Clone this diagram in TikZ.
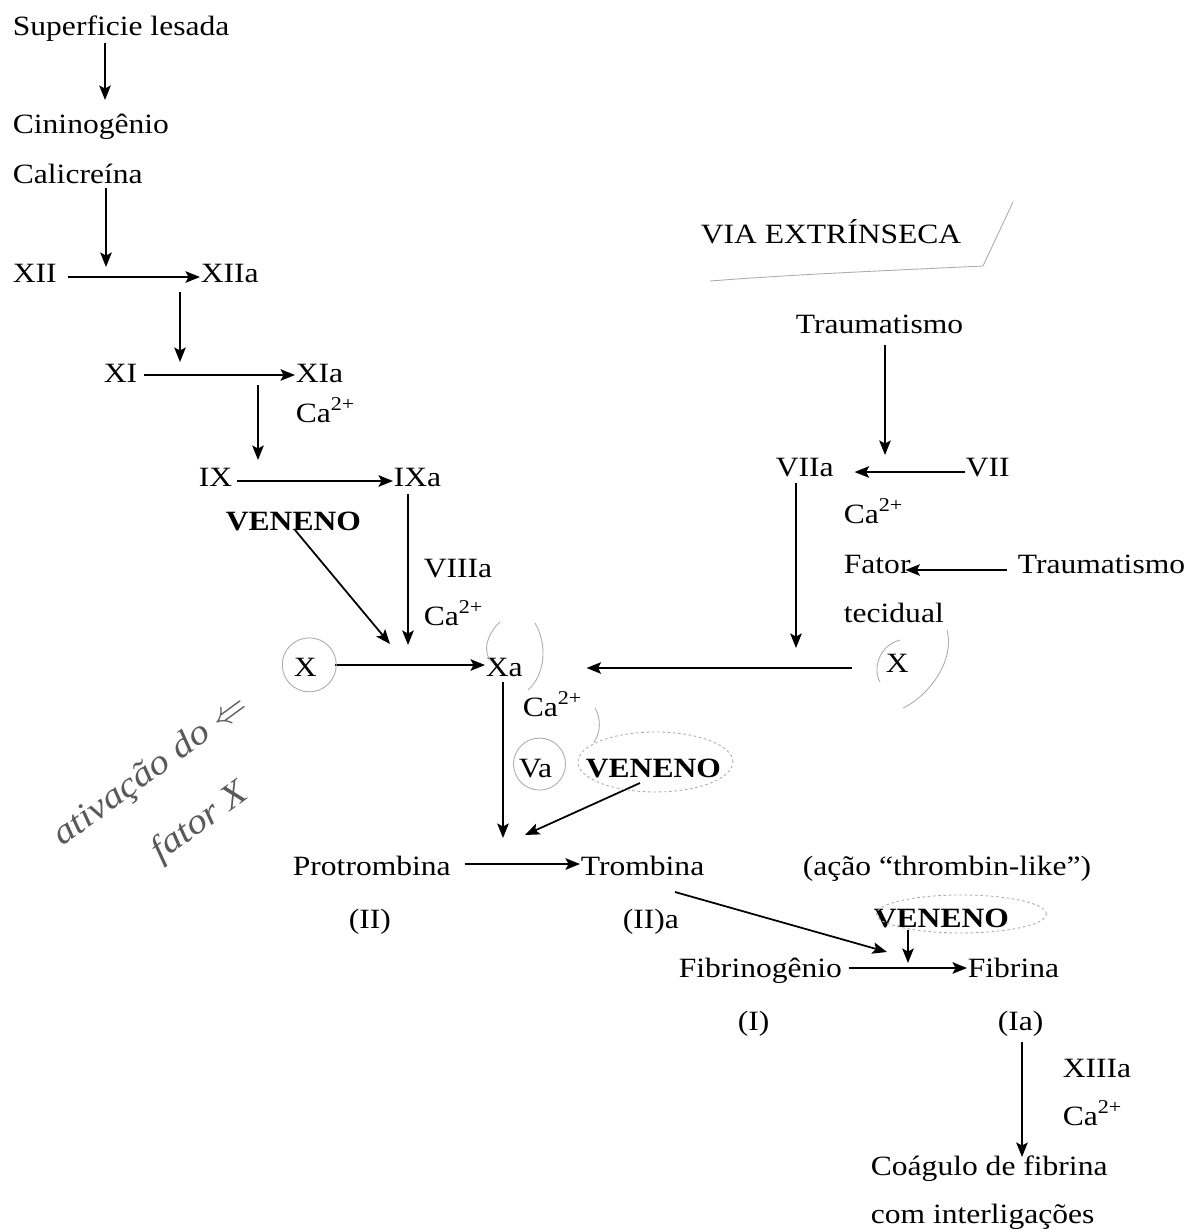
\documentclass[tikz,border=0pt]{standalone}
\usepackage{fontspec}
\setmainfont{Liberation Serif}[FakeStretch=1.13]
\usepackage{tikz}
\usetikzlibrary{arrows.meta,calc}

\begin{document}
\begin{tikzpicture}
[
	              x = 0.02cm,
	              y = -0.02cm,
	           ->, >= {Stealth[length=2.9mm, width=2.3mm, inset=0.6mm]},
	     line width = 1pt,
	    lbl/.style = { anchor=base west, inner sep=0pt, font=\fontsize{15.9}{19}\selectfont },
	  venom/.style = { lbl, font=\fontsize{15.9}{19}\selectfont\bfseries },
	   note/.style = { -, draw=gray!65, line width=0.5pt },
	 dotted/.style = { note, dash pattern=on 1.5pt off 1.5pt },
	   hand/.style = { inner sep=0pt, text=black!65, align=left, font=\fontsize{20}{40}\selectfont\itshape }
]
	\useasboundingbox (0,0) rectangle (1192,1232);

	% intrinsic pathway
	\node (sup)   at (12,35)    [lbl]   {Superficie lesada};
	\node (cin)   at (12,133)   [lbl]   {Cininogênio};
	\node (cal)   at (12,183)   [lbl]   {Calicreína};
	\node (xii)   at (12,282)   [lbl]   {XII};
	\node (xiia)  at (200,282)  [lbl]   {XIIa};
	\node (xi)    at (103,382)  [lbl]   {XI};
	\node (xia)   at (295,382)  [lbl]   {XIa};
	\node (ca1)   at (295,422)  [lbl]   {Ca\textsuperscript{2+}};
	\node (ix)    at (198,486)  [lbl]   {IX};
	\node (ixa)   at (393,486)  [lbl]   {IXa};
	\node (ven1)  at (225,530)  [venom] {VENENO};
	\node (viiia) at (423,577)  [lbl]   {VIIIa};
	\node (ca2)   at (423,625)  [lbl]   {Ca\textsuperscript{2+}};
	\node (xl)    at (293,676)  [lbl]   {X};
	\node (xa)    at (485,676)  [lbl]   {Xa};
	\node (ca3)   at (522,716)  [lbl]   {Ca\textsuperscript{2+}};
	\node (va)    at (518,777)  [lbl]   {Va};
	\node (ven2)  at (585,777)  [venom] {VENENO};
	\node (prot)  at (292,875)  [lbl]   {Protrombina};
	\node (trom)  at (580,875)  [lbl]   {Trombina};
	\node (ii)    at (348,928)  [lbl]   {(II)};
	\node (iia)   at (622,928)  [lbl]   {(II)a};
	\node (acao)  at (802,875)  [lbl]   {(ação “thrombin-like”)};
	\node (ven3)  at (873,927)  [venom] {VENENO};
	\node (fibg)  at (678,977)  [lbl]   {Fibrinogênio};
	\node (fib)   at (967,977)  [lbl]   {Fibrina};
	\node (i)     at (737,1030) [lbl]   {(I)};
	\node (ia)    at (997,1030) [lbl]   {(Ia)};
	\node (xiiia) at (1062,1077)[lbl]   {XIIIa};
	\node (ca4)   at (1062,1125)[lbl]   {Ca\textsuperscript{2+}};
	\node (coag)  at (870,1175) [lbl]   {Coágulo de fibrina};
	\node (com)   at (870,1223) [lbl]   {com interligações};

	% extrinsic pathway
	\node (via)   at (700,243)  [lbl]   {VIA EXTRÍNSECA};
	\node (trau1) at (795,333)  [lbl]   {Traumatismo};
	\node (viia)  at (775,476)  [lbl]   {VIIa};
	\node (vii)   at (965,476)  [lbl]   {VII};
	\node (ca5)   at (843,523)  [lbl]   {Ca\textsuperscript{2+}};
	\node (fator) at (843,573)  [lbl]   {Fator};
	\node (trau2) at (1017,573) [lbl]   {Traumatismo};
	\node (tec)   at (843,622)  [lbl]   {tecidual};
	\node (xr)    at (885,672)  [lbl]   {X};

	% cascade arrows
	\draw ($(sup.base west)+(93,8)$)    -- ($(cin.base west)+(93,-33)$);
	\draw ($(cal.base west)+(94,5)$)    -- ($(xii.base west)+(94,-15)$);
	\draw ($(xii.base east)+(10,-5)$)   -- ($(xiia.base west)+(0,-5)$);
	\draw ($(xiia.base west)+(-20,10)$) -- ($(xi.base west)+(77,-20)$);
	\draw ($(xi.base east)+(6,-7)$)     -- ($(xia.base west)+(0,-7)$);
	\draw ($(xia.base west)+(-37,3)$)   -- ($(ix.base west)+(60,-26)$);
	\draw ($(ix.base east)+(4,-5)$)     -- ($(ixa.base west)+(0,-5)$);
	\draw ($(ixa.base west)+(15,8)$)    -- ($(xa.base west)+(-77,-31)$);
	\draw ($(ven1.base west)+(70,0)$)   -- ($(xa.base west)+(-95,-32)$);
	\draw ($(xl.base east)+(17,-11)$)   -- ($(xa.base west)+(0,-11)$);
	\draw ($(xr.base west)+(-33,-4)$)   -- ($(xa.base east)+(63,-8)$);
	\draw ($(xa.base west)+(18,6)$)     -- ($(prot.base west)+(211,-37)$);
	\draw ($(ven2.base west)+(55,6)$)   -- ($(prot.base west)+(233,-40)$);
	\draw ($(prot.base east)+(13,-11)$) -- ($(trom.base west)+(0,-11)$);
	\draw ($(trom.base west)+(95,17)$)  -- ($(fibg.base west)+(209,-25)$);
	\draw ($(ven3.base west)+(35,3)$)   -- ($(fibg.base west)+(230,-14)$);
	\draw ($(fibg.base east)+(6,-9)$)   -- ($(fib.base west)+(0,-9)$);
	\draw ($(ia.base west)+(25,12)$)    -- ($(coag.base west)+(152,-18)$);
	\draw ($(trau1.base west)+(90,12)$) -- ($(viia.base west)+(110,-21)$);
	\draw ($(vii.base west)+(0,-4)$)    -- ($(viia.base east)+(20,-4)$);
	\draw ($(trau2.base west)+(-10,-3)$) -- ($(fator.base east)+(-6,-3)$);
	\draw ($(viia.base west)+(21,7)$)   -- ($(xr.base west)+(-89,-24)$);

	% handwritten marks
	\draw [note] (710,281) .. controls (800,274) and (900,270) .. (983,266) -- (1013,202);
	\draw [note] ($(xl.center)+(4,-2)$) circle [radius=0.54cm];
	\draw [note] (500,622) .. controls (485,635) and (483,655) .. (492,662);
	\draw [note] (535,623) .. controls (548,645) and (545,675) .. (528,690);
	\draw [note] (595,708) .. controls (601,718) and (601,732) .. (594,742);
	\draw [note] ($(va.center)+(4,-4)$) circle [radius=0.52cm];
	\draw [dotted] ($(ven2.center)+(2,-6)$) ellipse [x radius=1.55cm, y radius=0.6cm];
	\draw [dotted] ($(ven3.center)+(20,-4)$) ellipse [x radius=1.7cm, y radius=0.38cm];
	\draw [note] (947,630) .. controls (955,660) and (930,695) .. (903,708);
	\draw [note] (900,640) .. controls (880,645) and (872,668) .. (880,682);
	\node (hw) at (172,800) [hand, rotate=36] {ativação do $\Leftarrow$\\\hspace*{2em}fator X};

\end{tikzpicture}
\end{document}
